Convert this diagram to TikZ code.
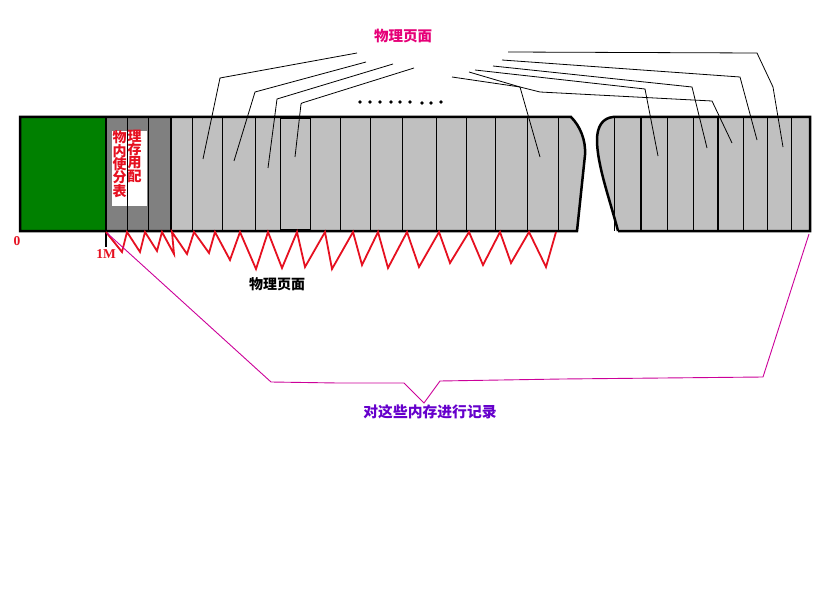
\documentclass[tikz,border=0pt]{standalone}
\usepackage{fontspec}
\newfontfamily\cjk{Noto Sans CJK SC}
\newfontfamily\tms{Liberation Serif}
\definecolor{pgreen}{RGB}{0,128,0}
\definecolor{dgray}{RGB}{128,128,128}
\definecolor{lgray}{RGB}{192,192,192}
\definecolor{zigred}{RGB}{230,16,32}
\definecolor{magline}{RGB}{204,0,153}
\definecolor{topmag}{RGB}{230,0,120}
\definecolor{purp}{RGB}{102,0,204}
\tikzset{
  border/.style={line width=2.5pt, line join=miter},
  pageline/.style={line width=0.9pt},
  leader/.style={line width=0.8pt},
  zig/.style={zigred, line width=1.8pt, line join=miter},
  cjklabel/.style={font=\cjk\bfseries\fontsize{14}{14}\selectfont, inner sep=0pt},
  tbltext/.style={text=zigred, font=\cjk\bfseries\fontsize{14}{13.4}\selectfont, align=center, anchor=north, inner sep=0pt},
  numlabel/.style={font=\tms\bfseries\fontsize{13.5}{13.5}\selectfont, text=zigred, inner sep=0pt},
  dotmark/.style={circle, fill=black, inner sep=0pt, minimum size=3.6pt}
}
\begin{document}
\begin{tikzpicture}[x=1pt,y=-1pt]
\useasboundingbox (0,0) rectangle (819,591);
\fill[white] (0,0) rectangle (819,591);

% ---------- left part of the memory bar ----------
\fill[pgreen] (20,117) rectangle (106,231);
\fill[dgray] (106,117) rectangle (171,231);
\fill[white] (112,131) rectangle (147,206);
\draw[pageline] (127,117) -- (127,231);
\draw[pageline] (148,117) -- (148,231);
\fill[lgray] (171,117) -- (571,117) .. controls (580,126) and (586,140) .. (585,155) -- (577,231) -- (171,231) -- cycle;
\foreach \x in {192,222,255,340,370,402,436,466,495,527,558}
  \draw[pageline] (\x,117) -- (\x,231);
\draw[pageline] (280,118) rectangle (310,229);
\draw[line width=1.5pt] (106,117) -- (106,231);
\draw[line width=1.5pt] (171,117) -- (171,231);
\draw[border] (20,231) -- (20,117) -- (571,117) .. controls (580,126) and (586,140) .. (585,155) -- (577,231) -- cycle;

% ---------- right part of the memory bar ----------
\fill[lgray] (613,117) -- (810,117) -- (810,231) -- (618,231) .. controls (610,200) and (597,165) .. (597,140) .. controls (597,126) and (603,118) .. (613,117) -- cycle;
\draw[pageline] (614,117) -- (614,231);
\foreach \x in {667,693,743,767,791}
  \draw[pageline] (\x,117) -- (\x,231);
\draw[line width=1.8pt] (641,117) -- (641,231);
\draw[line width=1.3pt] (718,117) -- (718,231);
\draw[border] (618,231) -- (810,231) -- (810,117) -- (613,117) .. controls (603,118) and (597,126) .. (597,140) .. controls (597,165) and (610,200) .. (618,231);

% ---------- marks 0 and 1M ----------
\coordinate (m1top) at (106,231);
\coordinate (m1bot) at (106,247);
\draw[line width=2pt] (m1top) -- (m1bot);
\node[numlabel] (zero) at (17,241) {0};
\node[numlabel] (onem) at (106,254) {1M};

% ---------- text inside the table area ----------
\node[tbltext] (tblL) at (119.5,130.5) {物\\内\\使\\分\\表};
\node[tbltext] (tblR) at (134.5,129.5) {理\\存\\用\\配};

% ---------- red zigzag ----------
\draw[zig] (106,232) -- (122,252) -- (127,232) -- (140,252) -- (145,232) -- (157,251) -- (162,232) -- (174,254) -- (172,232) -- (187,254) -- (194,232) -- (209,253) -- (215,232) -- (230,260) -- (240,232) -- (256,269) -- (268,232) -- (282,268) -- (297,232) -- (305,267) -- (325,232) -- (332,269) -- (353,232) -- (362,265) -- (378,232) -- (388,268) -- (407,232) -- (419,267) -- (439,232) -- (450,263) -- (469,232) -- (483,265) -- (500,232) -- (511,263) -- (529,232) -- (546,267) -- (556,232);

% ---------- labels ----------
\node[cjklabel] (pgbot) at (277,284) {物理页面};
\node[cjklabel, text=topmag, font=\cjk\bfseries\fontsize{14.5}{14.5}\selectfont] (pgtop) at (403,36) {物理页面};
\node[cjklabel, text=purp, font=\cjk\bfseries\fontsize{14.8}{15}\selectfont] (rec) at (430,412) {对这些内存进行记录};

% ---------- magenta bracket ----------
\coordinate (brL) at (107,233);
\coordinate (brR) at (809,234);
\coordinate (brTip) at (424,403);
\draw[magline, line width=0.9pt] (brL) -- (271,382) -- (338,383) -- (404,383) -- (brTip) -- (440,381) -- (562,379) -- (763,377) -- (brR);

% ---------- leader lines to the pages ----------
\coordinate (e1) at (203,159);
\coordinate (e2) at (234,161);
\coordinate (e3) at (268,168);
\coordinate (e4) at (295,157);
\coordinate (e5) at (540,157);
\coordinate (e6) at (658,156);
\coordinate (e7) at (707,148);
\coordinate (e8) at (732,143);
\coordinate (e9) at (757,140);
\coordinate (e10) at (783,147);
\draw[leader] (357,53) -- (220,78) -- (e1);
\draw[leader] (366,62) -- (255,92) -- (e2);
\draw[leader] (393,64) -- (277,99) -- (e3);
\draw[leader] (414,68) -- (302,103) -- (301,104) -- (e4);
\draw[leader] (452,77) -- (520,87) -- (e5);
\draw[leader] (469,72) -- (520,87) -- (540,92) -- (712,101) -- (e8);
\draw[leader] (475,70) -- (645,89) -- (e6);
\draw[leader] (493,66) -- (692,87) -- (e7);
\draw[leader] (502,60) -- (740,77) -- (e9);
\draw[leader] (508,52) -- (757,53) -- (773,87) -- (e10);

% ---------- dots ----------
\foreach \x/\y [count=\i] in {360/102,370/102,380/102,391/102,400/102,410/102,422/103,431/103,441/102}
  \node[dotmark] (dot\i) at (\x,\y) {};
\end{tikzpicture}
\end{document}
